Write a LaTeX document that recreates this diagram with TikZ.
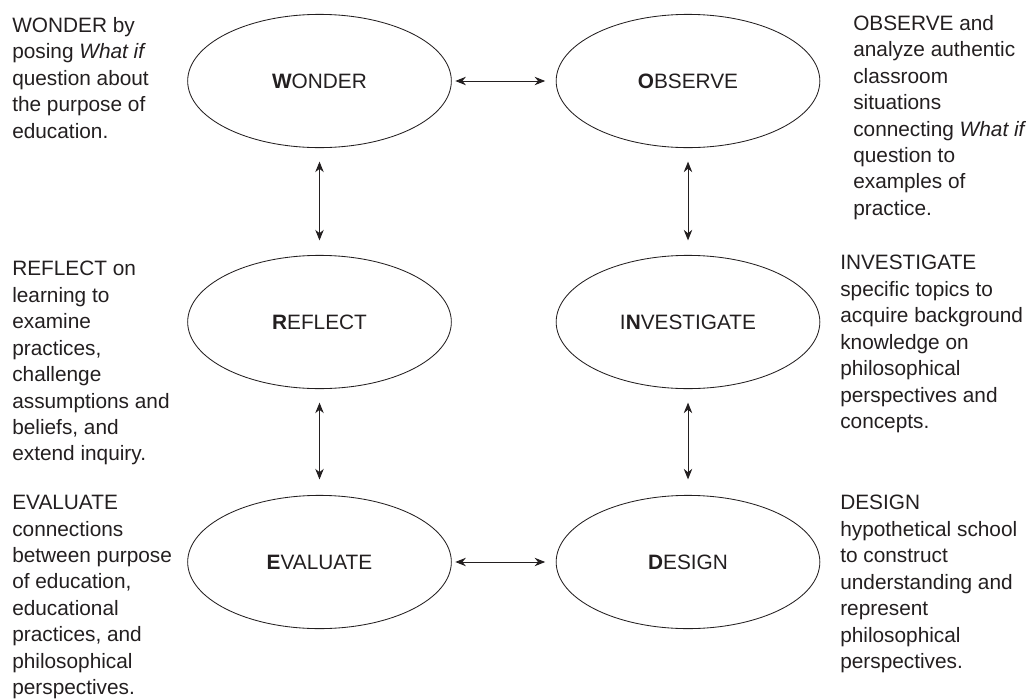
\documentclass[tikz,border=0pt]{standalone}
\usepackage{fontspec}
\setmainfont{Liberation Sans}
\usetikzlibrary{shapes.geometric,arrows.meta}
\definecolor{ink}{RGB}{35,31,32}
\begin{document}
\begin{tikzpicture}[x=0.025cm,y=-0.025cm,
    font=\fontsize{14.8}{18.8}\selectfont,
    every node/.style={text=ink},
    stage/.style={draw=ink,ellipse,line width=0.6pt,inner sep=0pt,outer sep=0pt,
        minimum width=6.59cm,minimum height=3.33cm},
    note/.style={anchor=north west,align=left,inner sep=0pt},
    link/.style={{Stealth[length=7.5pt,width=6pt]}-{Stealth[length=7.5pt,width=6pt]},
        draw=ink,line width=0.65pt}]
    \useasboundingbox (0,0) rectangle (1027,698);

    \node[stage] (W) at (319.5,81) {\textbf{W}ONDER};
    \node[stage] (O) at (688,81) {\textbf{O}BSERVE};
    \node[stage] (R) at (319.5,322) {\textbf{R}EFLECT};
    \node[stage] (I) at (688,322) {I\textbf{N}VESTIGATE};
    \node[stage] (E) at (319.5,562) {\textbf{E}VALUATE};
    \node[stage] (D) at (688,562) {\textbf{D}ESIGN};

    \node[note] (Wtext) at (12,17) {WONDER by\\posing \textit{What if}\\question about\\the purpose of\\education.};
    \node[note] (Otext) at (853,15) {OBSERVE and\\analyze authentic\\classroom\\situations\\connecting \textit{What if}\\question to\\examples of\\practice.};
    \node[note] (Rtext) at (12,261) {REFLECT on\\learning to\\examine\\practices,\\challenge\\assumptions and\\beliefs, and\\extend inquiry.};
    \node[note] (Itext) at (840,255) {INVESTIGATE\\specific topics to\\acquire background\\knowledge on\\philosophical\\perspectives and\\concepts.};
    \node[note] (Etext) at (12,495) {EVALUATE\\connections\\between purpose\\of education,\\educational\\practices, and\\philosophical\\perspectives.};
    \node[note] (Dtext) at (840,495) {DESIGN\\hypothetical school\\to construct\\understanding and\\represent\\philosophical\\perspectives.};

    \draw[link,shorten <=0.1cm,shorten >=0.275cm] (W) -- (O);
    \draw[link,shorten <=0.1cm,shorten >=0.275cm] (E) -- (D);
    \draw[link,shorten <=0.35cm,shorten >=0.375cm] (W) -- (R);
    \draw[link,shorten <=0.35cm,shorten >=0.4cm] (R) -- (E);
    \draw[link,shorten <=0.35cm,shorten >=0.375cm] (O) -- (I);
    \draw[link,shorten <=0.35cm,shorten >=0.4cm] (I) -- (D);
\end{tikzpicture}
\end{document}
